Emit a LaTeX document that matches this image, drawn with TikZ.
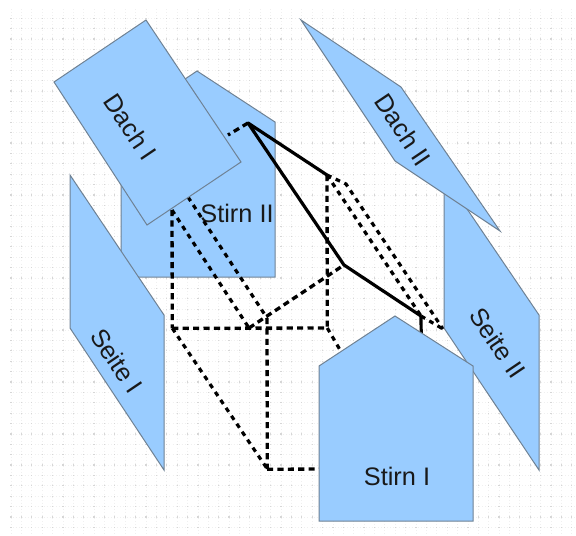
\documentclass[tikz,border=0pt]{standalone}
\usepackage{fontspec}
\setmainfont{Liberation Sans}
\definecolor{panel}{HTML}{99CCFF}
\definecolor{edge}{HTML}{6F8294}
\tikzset{
  px/.style={x=0.75pt,y=-0.75pt},
  panelshape/.style={draw=edge,fill=panel,line width=0.75pt,line join=miter},
  hidden/.style={draw=black,line width=2.5pt,dash pattern=on 4.6pt off 3.2pt},
  hiddenfine/.style={draw=black,line width=2.4pt,dash pattern=on 3.6pt off 3.6pt},
  visible/.style={draw=black,line width=2.4pt,line join=round},
  label/.style={font=\fontsize{19pt}{21pt}\selectfont,text=black!90,inner sep=0pt},
  gridfine/.style={draw=black!6,line width=0.6pt,dash pattern=on 0.7pt off 1.6pt},
  griddot/.style={fill=black!16}
}
\begin{document}
\begin{tikzpicture}[px]
\useasboundingbox (0,0) rectangle (576,536);
\fill[white] (0,0) rectangle (576,536);
% grid
\foreach \k in {0,...,54}{
  \pgfmathsetmacro{\gx}{11+10.385*\k}
  \draw[gridfine] (\gx,9) -- (\gx,536);
}
\foreach \k in {0,...,49}{
  \pgfmathsetmacro{\gy}{18.3+10.39*\k}
  \draw[gridfine] (10,\gy) -- (576,\gy);
}
\foreach \k in {0,...,54}{
  \foreach \m in {0,...,49}{
    \pgfmathsetmacro{\gx}{11+10.385*\k}
    \pgfmathsetmacro{\gy}{18.3+10.39*\m}
    \fill[griddot] (\gx-0.6,\gy-0.6) rectangle (\gx+0.6,\gy+0.6);
  }
}
% vertices of the house edges
\coordinate (ridgeback) at (248,123);
\coordinate (eaveR) at (327,175);
\coordinate (eaveRb) at (346,184);
\coordinate (footR) at (327.3,328);
\coordinate (roofL) at (172,210);
\coordinate (roofLb) at (188,197);
\coordinate (footL) at (172.3,328.3);
\coordinate (low) at (267.3,469);
\coordinate (lowb) at (267,469.3);
\coordinate (mid) at (267,318);
\coordinate (midb) at (249,328);
\coordinate (apex) at (344,265);
\coordinate (kink) at (421,316);
\coordinate (kinkdown) at (421.2,334);
\coordinate (seiteTouch) at (443,329);
\coordinate (hiddenA) at (228,135);
\coordinate (stirnLeft) at (319,469);
\coordinate (behind) at (343,355);
% Stirn II
\path[panelshape] (197,71) -- (275,122) -- (275,277) -- (121,277) -- (121,122) -- cycle;
\node[label] (stirnii) at (237,213) {Stirn II};
% hidden edges
\draw[hidden] (roofL) -- (footL);
\draw[hidden] (footL) -- (footR);
\draw[hidden] (eaveR) -- (footR);
\draw[hidden] (mid) -- (low);
\draw[hidden] (lowb) -- (stirnLeft);
\draw[hidden] (midb) -- (apex);
\draw[hidden] (ridgeback) -- (hiddenA);
\draw[hiddenfine] (roofL) -- (midb);
\draw[hiddenfine] (roofLb) -- (mid);
\draw[hiddenfine] (footL) -- (low);
\draw[hiddenfine] (footR) -- (behind);
\draw[hiddenfine] (eaveR) -- (kink);
\draw[hiddenfine] (eaveR) -- (eaveRb) -- (seiteTouch);
\draw[hiddenfine] (kink) -- (seiteTouch);
% visible edges
\draw[visible] (eaveR) -- (ridgeback) -- (apex) -- (kink);
\draw[visible] (kink) -- (kinkdown);
% panels
\path[panelshape] (146,20) -- (241,162) -- (147,225) -- (54,82) -- cycle;
\node[label,rotate=-56] (dachi) at (130,127) {Dach I};
\path[panelshape] (70,175) -- (164,315) -- (164,470) -- (70,328) -- cycle;
\node[label,rotate=-56] (seitei) at (117,361) {Seite I};
\path[panelshape] (444,175) -- (539,315) -- (539,470) -- (444,328) -- cycle;
\node[label,rotate=-56] (seiteii) at (498,343) {Seite II};
\path[panelshape] (301,20) -- (401,87) -- (500,231) -- (395,161) -- cycle;
\node[label,rotate=-56] (dachii) at (403,130) {Dach II};
\path[panelshape] (395,316) -- (473,366) -- (473,521) -- (319,521) -- (319,366) -- cycle;
\node[label] (stirni) at (397,476) {Stirn I};
\end{tikzpicture}
\end{document}
